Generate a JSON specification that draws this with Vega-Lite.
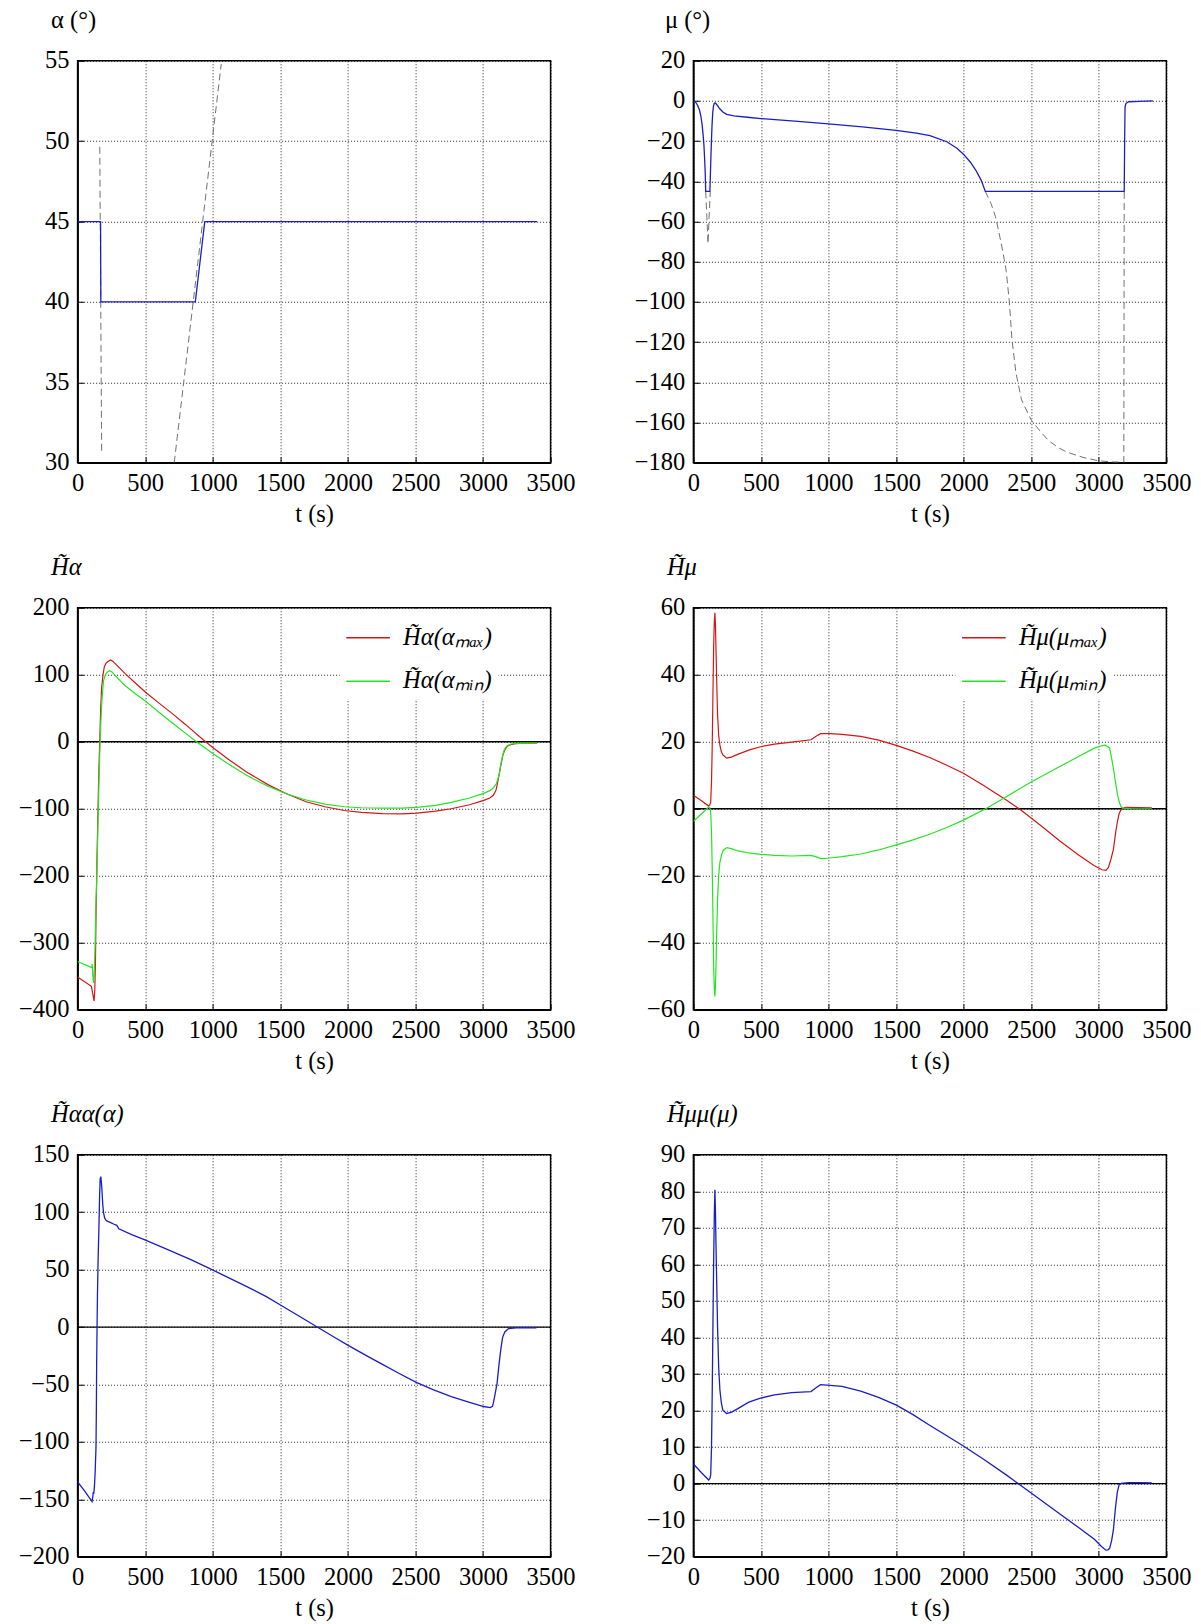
{
  "$schema": "https://vega.github.io/schema/vega-lite/v6.json",
  "background": "white",
  "autosize": {"type": "pad"},
  "padding": {"left": 6.6, "top": 6.75, "right": 20, "bottom": 10},
  "config": {
    "font": "Liberation Serif",
    "numberFormat": "d",
    "view": {"stroke": "black", "strokeWidth": 1.5},
    "axis": {
      "labelFont": "Liberation Serif", "labelFontSize": 24.5, "labelColor": "black",
      "titleFont": "Liberation Serif", "titleFontSize": 24.5, "titleFontWeight": "normal", "titleColor": "black",
      "grid": true, "gridColor": "#000000", "gridDash": [1, 2], "gridWidth": 1, "gridOpacity": 0.85,
      "domainColor": "black", "domainWidth": 1.5,
      "ticks": true, "tickColor": "black", "tickSize": -6, "tickWidth": 1,
      "labelOverlap": false, "labelFlush": false, "labelBound": false
    },
    "axisX": {"labelPadding": 15, "titleY": 51.5, "titleBaseline": "middle"},
    "axisY": {"labelPadding": 14.6, "titleAngle": 0, "titleAlign": "left", "titleBaseline": "middle", "titleY": -40, "titleX": -27, "minExtent": 70, "maxExtent": 70},
    "legend": {
      "orient": "none", "legendX": 262, "legendY": 1.5, "fillColor": "white", "padding": 6,
      "symbolType": "stroke", "symbolSize": 1900, "symbolStrokeWidth": 1.3,
      "labelFont": "Liberation Serif", "labelFontSize": 24.5, "labelFontStyle": "italic", "labelColor": "black",
      "labelOffset": 12.5, "rowPadding": 9.5
    }
  },
  "datasets": {
    "zero": [{"t": 0, "v": 0}, {"t": 3500, "v": 0}],
    "a_blue": [{"t":0,"v":45},{"t":170,"v":45},{"t":172,"v":40},{"t":871,"v":40},{"t":941,"v":45},{"t":3400,"v":45}],
    "a_dash": [{"t":164,"v":49.65,"seg":"a"},{"t":178,"v":30.7,"seg":"a"},{"t":715,"v":30,"seg":"b"},{"t":1063,"v":54.8,"seg":"b"}],
    "m_blue": [{"t":0,"v":0},{"t":15,"v":-0.5},{"t":30,"v":-2},{"t":45,"v":-4.5},{"t":55,"v":-7.5},{"t":65,"v":-12},{"t":72,"v":-17},{"t":78,"v":-22},{"t":84,"v":-30},{"t":88,"v":-37},{"t":91,"v":-45},{"t":122,"v":-45},{"t":126,"v":-36},{"t":130,"v":-27},{"t":134,"v":-19},{"t":138,"v":-12},{"t":143,"v":-6},{"t":148,"v":-2.8},{"t":154,"v":-1.2},{"t":160,"v":-0.9},{"t":168,"v":-1.4},{"t":180,"v":-2.5},{"t":195,"v":-3.9},{"t":218,"v":-5.5},{"t":246,"v":-6.7},{"t":300,"v":-7.4},{"t":400,"v":-8.1},{"t":500,"v":-8.75},{"t":750,"v":-10},{"t":1000,"v":-11.4},{"t":1250,"v":-12.9},{"t":1500,"v":-14.6},{"t":1650,"v":-16},{"t":1750,"v":-17.3},{"t":1875,"v":-20.3},{"t":1950,"v":-23.5},{"t":2000,"v":-26.6},{"t":2050,"v":-30.5},{"t":2090,"v":-34.5},{"t":2130,"v":-39.5},{"t":2160,"v":-45},{"t":3188,"v":-45},{"t":3191,"v":-20},{"t":3194,"v":-3},{"t":3200,"v":-1.3},{"t":3221,"v":-0.4},{"t":3300,"v":-0.2},{"t":3400,"v":0}],
    "m_dash": [{"t":91,"v":-45,"seg":"a"},{"t":100,"v":-58,"seg":"a"},{"t":108,"v":-71,"seg":"a"},{"t":116,"v":-58,"seg":"a"},{"t":125,"v":-45,"seg":"a"},
      {"t":2160,"v":-45,"seg":"b"},{"t":2202,"v":-51,"seg":"b"},{"t":2235,"v":-57.5,"seg":"b"},{"t":2258,"v":-64.5,"seg":"b"},{"t":2290,"v":-75,"seg":"b"},{"t":2315,"v":-84.7,"seg":"b"},{"t":2338,"v":-100,"seg":"b"},{"t":2357,"v":-118.4,"seg":"b"},{"t":2386,"v":-135,"seg":"b"},{"t":2428,"v":-148.7,"seg":"b"},{"t":2500,"v":-158.8,"seg":"b"},{"t":2570,"v":-164.6,"seg":"b"},{"t":2627,"v":-168.9,"seg":"b"},{"t":2700,"v":-172.5,"seg":"b"},{"t":2768,"v":-174.8,"seg":"b"},{"t":2882,"v":-177.3,"seg":"b"},{"t":2995,"v":-179,"seg":"b"},{"t":3100,"v":-179.6,"seg":"b"},{"t":3185,"v":-179.7,"seg":"b"},{"t":3188,"v":-45,"seg":"b"}],
    "ha": [
      {"t":0,"v":-351,"s":"max"},{"t":102,"v":-365,"s":"max"},{"t":113,"v":-377,"s":"max"},{"t":122,"v":-387,"s":"max"},{"t":127,"v":-372,"s":"max"},{"t":132,"v":-330,"s":"max"},{"t":136,"v":-261,"s":"max"},{"t":143,"v":-180,"s":"max"},{"t":150,"v":-110,"s":"max"},{"t":157,"v":-45,"s":"max"},{"t":164,"v":1,"s":"max"},{"t":171,"v":50,"s":"max"},{"t":178,"v":81,"s":"max"},{"t":188,"v":100,"s":"max"},{"t":198,"v":112,"s":"max"},{"t":210,"v":117,"s":"max"},{"t":220,"v":119,"s":"max"},{"t":243,"v":122,"s":"max"},{"t":260,"v":120,"s":"max"},{"t":277,"v":117,"s":"max"},{"t":350,"v":102,"s":"max"},{"t":425,"v":88,"s":"max"},{"t":503,"v":74,"s":"max"},{"t":600,"v":58,"s":"max"},{"t":701,"v":42,"s":"max"},{"t":800,"v":25.5,"s":"max"},{"t":927,"v":3.3,"s":"max"},{"t":1000,"v":-8.5,"s":"max"},{"t":1125,"v":-27.5,"s":"max"},{"t":1250,"v":-45,"s":"max"},{"t":1408,"v":-64,"s":"max"},{"t":1550,"v":-78,"s":"max"},{"t":1691,"v":-89.5,"s":"max"},{"t":1830,"v":-97,"s":"max"},{"t":1973,"v":-102.6,"s":"max"},{"t":2100,"v":-105.5,"s":"max"},{"t":2256,"v":-107.3,"s":"max"},{"t":2400,"v":-107.5,"s":"max"},{"t":2511,"v":-106.5,"s":"max"},{"t":2650,"v":-103.5,"s":"max"},{"t":2765,"v":-100,"s":"max"},{"t":2900,"v":-94,"s":"max"},{"t":3005,"v":-87.5,"s":"max"},{"t":3050,"v":-84,"s":"max"},{"t":3076,"v":-80,"s":"max"},{"t":3095,"v":-73,"s":"max"},{"t":3104,"v":-65,"s":"max"},{"t":3118,"v":-50,"s":"max"},{"t":3132,"v":-35,"s":"max"},{"t":3147,"v":-20,"s":"max"},{"t":3161,"v":-12,"s":"max"},{"t":3180,"v":-6.5,"s":"max"},{"t":3203,"v":-4.5,"s":"max"},{"t":3240,"v":-3,"s":"max"},{"t":3274,"v":-2.5,"s":"max"},{"t":3400,"v":-2,"s":"max"},
      {"t":0,"v":-328,"s":"min"},{"t":105,"v":-337,"s":"min"},{"t":108,"v":-332,"s":"min"},{"t":113,"v":-350,"s":"min"},{"t":118,"v":-360,"s":"min"},{"t":123,"v":-345,"s":"min"},{"t":130,"v":-300,"s":"min"},{"t":136,"v":-240,"s":"min"},{"t":141,"v":-211,"s":"min"},{"t":150,"v":-130,"s":"min"},{"t":158,"v":-60,"s":"min"},{"t":165,"v":-10,"s":"min"},{"t":172,"v":30,"s":"min"},{"t":180,"v":62,"s":"min"},{"t":192,"v":91,"s":"min"},{"t":205,"v":100,"s":"min"},{"t":220,"v":104,"s":"min"},{"t":235,"v":106,"s":"min"},{"t":255,"v":104,"s":"min"},{"t":277,"v":99,"s":"min"},{"t":350,"v":84,"s":"min"},{"t":425,"v":72,"s":"min"},{"t":503,"v":60.5,"s":"min"},{"t":600,"v":44.5,"s":"min"},{"t":701,"v":28,"s":"min"},{"t":800,"v":12.5,"s":"min"},{"t":880,"v":0,"s":"min"},{"t":1000,"v":-17.5,"s":"min"},{"t":1125,"v":-34.5,"s":"min"},{"t":1250,"v":-50,"s":"min"},{"t":1408,"v":-66.5,"s":"min"},{"t":1550,"v":-78,"s":"min"},{"t":1691,"v":-87,"s":"min"},{"t":1830,"v":-93,"s":"min"},{"t":1973,"v":-97,"s":"min"},{"t":2100,"v":-98.5,"s":"min"},{"t":2256,"v":-99,"s":"min"},{"t":2400,"v":-99,"s":"min"},{"t":2511,"v":-98,"s":"min"},{"t":2650,"v":-95,"s":"min"},{"t":2765,"v":-90.5,"s":"min"},{"t":2900,"v":-84,"s":"min"},{"t":3005,"v":-77,"s":"min"},{"t":3050,"v":-73,"s":"min"},{"t":3076,"v":-69,"s":"min"},{"t":3100,"v":-62,"s":"min"},{"t":3118,"v":-50,"s":"min"},{"t":3135,"v":-30,"s":"min"},{"t":3147,"v":-19,"s":"min"},{"t":3160,"v":-11,"s":"min"},{"t":3175,"v":-6.7,"s":"min"},{"t":3200,"v":-4,"s":"min"},{"t":3217,"v":-3,"s":"min"},{"t":3260,"v":-2.3,"s":"min"},{"t":3400,"v":-2,"s":"min"}
    ],
    "hm": [
      {"t":0,"v":4,"s":"max"},{"t":60,"v":2.4,"s":"max"},{"t":113,"v":0.8,"s":"max"},{"t":122,"v":1.2,"s":"max"},{"t":128,"v":2,"s":"max"},{"t":134,"v":8,"s":"max"},{"t":139,"v":18,"s":"max"},{"t":145,"v":35,"s":"max"},{"t":150,"v":48.4,"s":"max"},{"t":155,"v":56,"s":"max"},{"t":159,"v":58.5,"s":"max"},{"t":163,"v":55,"s":"max"},{"t":167,"v":48,"s":"max"},{"t":173,"v":37,"s":"max"},{"t":179,"v":28,"s":"max"},{"t":187,"v":22,"s":"max"},{"t":196,"v":19,"s":"max"},{"t":207,"v":17,"s":"max"},{"t":218,"v":16.1,"s":"max"},{"t":246,"v":15.1,"s":"max"},{"t":280,"v":15.4,"s":"max"},{"t":332,"v":16.3,"s":"max"},{"t":410,"v":17.5,"s":"max"},{"t":496,"v":18.5,"s":"max"},{"t":600,"v":19.3,"s":"max"},{"t":728,"v":19.9,"s":"max"},{"t":870,"v":20.6,"s":"max"},{"t":905,"v":21.6,"s":"max"},{"t":941,"v":22.4,"s":"max"},{"t":1012,"v":22.4,"s":"max"},{"t":1100,"v":22.2,"s":"max"},{"t":1238,"v":21.6,"s":"max"},{"t":1370,"v":20.5,"s":"max"},{"t":1502,"v":18.9,"s":"max"},{"t":1625,"v":17.2,"s":"max"},{"t":1748,"v":15.3,"s":"max"},{"t":1875,"v":13,"s":"max"},{"t":1998,"v":10.6,"s":"max"},{"t":2145,"v":7,"s":"max"},{"t":2315,"v":2.6,"s":"max"},{"t":2428,"v":-0.5,"s":"max"},{"t":2570,"v":-5,"s":"max"},{"t":2712,"v":-9.6,"s":"max"},{"t":2850,"v":-13.8,"s":"max"},{"t":2967,"v":-17,"s":"max"},{"t":3024,"v":-18.2,"s":"max"},{"t":3052,"v":-18.4,"s":"max"},{"t":3070,"v":-17.6,"s":"max"},{"t":3090,"v":-15,"s":"max"},{"t":3108,"v":-12.1,"s":"max"},{"t":3125,"v":-7,"s":"max"},{"t":3137,"v":-4,"s":"max"},{"t":3150,"v":-1.5,"s":"max"},{"t":3165,"v":-0.2,"s":"max"},{"t":3194,"v":0.4,"s":"max"},{"t":3300,"v":0.35,"s":"max"},{"t":3392,"v":0.3,"s":"max"},
      {"t":0,"v":-3.8,"s":"min"},{"t":60,"v":-1.5,"s":"min"},{"t":113,"v":0.5,"s":"min"},{"t":122,"v":0.2,"s":"min"},{"t":128,"v":-1,"s":"min"},{"t":134,"v":-7,"s":"min"},{"t":139,"v":-17,"s":"min"},{"t":145,"v":-33,"s":"min"},{"t":150,"v":-47.4,"s":"min"},{"t":155,"v":-54,"s":"min"},{"t":159,"v":-56,"s":"min"},{"t":163,"v":-53,"s":"min"},{"t":167,"v":-47.4,"s":"min"},{"t":173,"v":-36,"s":"min"},{"t":179,"v":-27,"s":"min"},{"t":187,"v":-20,"s":"min"},{"t":196,"v":-16,"s":"min"},{"t":207,"v":-14,"s":"min"},{"t":218,"v":-12.6,"s":"min"},{"t":246,"v":-11.6,"s":"min"},{"t":280,"v":-11.9,"s":"min"},{"t":332,"v":-12.6,"s":"min"},{"t":410,"v":-13.2,"s":"min"},{"t":496,"v":-13.6,"s":"min"},{"t":600,"v":-13.9,"s":"min"},{"t":728,"v":-14.1,"s":"min"},{"t":870,"v":-13.9,"s":"min"},{"t":905,"v":-14.3,"s":"min"},{"t":941,"v":-14.9,"s":"min"},{"t":1012,"v":-14.7,"s":"min"},{"t":1100,"v":-14.3,"s":"min"},{"t":1238,"v":-13.5,"s":"min"},{"t":1370,"v":-12.3,"s":"min"},{"t":1502,"v":-10.8,"s":"min"},{"t":1625,"v":-9.3,"s":"min"},{"t":1748,"v":-7.6,"s":"min"},{"t":1875,"v":-5.6,"s":"min"},{"t":1998,"v":-3.4,"s":"min"},{"t":2173,"v":0.2,"s":"min"},{"t":2315,"v":3.6,"s":"min"},{"t":2499,"v":8,"s":"min"},{"t":2712,"v":12.6,"s":"min"},{"t":2850,"v":15.6,"s":"min"},{"t":2967,"v":18.1,"s":"min"},{"t":3020,"v":18.8,"s":"min"},{"t":3046,"v":19,"s":"min"},{"t":3065,"v":18.6,"s":"min"},{"t":3080,"v":18.1,"s":"min"},{"t":3095,"v":15,"s":"min"},{"t":3110,"v":11.5,"s":"min"},{"t":3123,"v":8,"s":"min"},{"t":3137,"v":4.5,"s":"min"},{"t":3151,"v":2,"s":"min"},{"t":3165,"v":0.6,"s":"min"},{"t":3179,"v":0.2,"s":"min"},{"t":3250,"v":0,"s":"min"},{"t":3392,"v":0,"s":"min"}
    ],
    "haa": [{"t":0,"v":-134.8},{"t":50,"v":-142.5},{"t":107,"v":-152},{"t":112,"v":-148},{"t":116,"v":-143.7},{"t":120,"v":-145},{"t":125,"v":-138},{"t":130,"v":-126},{"t":136,"v":-105},{"t":139,"v":-70},{"t":141,"v":-31},{"t":144,"v":0},{"t":147,"v":28.4},{"t":152,"v":60},{"t":158,"v":87.7},{"t":163,"v":115},{"t":167,"v":129},{"t":172,"v":131},{"t":176,"v":126},{"t":181,"v":117.6},{"t":186,"v":107},{"t":192,"v":99.6},{"t":200,"v":95},{"t":210,"v":93},{"t":220,"v":92.2},{"t":249,"v":90.7},{"t":270,"v":89.5},{"t":290,"v":88.5},{"t":305,"v":85.5},{"t":400,"v":80.5},{"t":498,"v":75.8},{"t":650,"v":68.2},{"t":842,"v":58.5},{"t":998,"v":49.8},{"t":1150,"v":41},{"t":1267,"v":34.3},{"t":1400,"v":26.3},{"t":1501,"v":19.2},{"t":1650,"v":8.7},{"t":1776,"v":-0.2},{"t":1900,"v":-8.9},{"t":2002,"v":-16},{"t":2130,"v":-24.5},{"t":2256,"v":-32.5},{"t":2380,"v":-40.5},{"t":2502,"v":-48},{"t":2630,"v":-54.5},{"t":2765,"v":-60.6},{"t":2900,"v":-65.5},{"t":3005,"v":-69.2},{"t":3053,"v":-70.1},{"t":3070,"v":-69},{"t":3076,"v":-66.5},{"t":3090,"v":-58},{"t":3104,"v":-48.8},{"t":3118,"v":-33},{"t":3132,"v":-19},{"t":3145,"v":-9},{"t":3161,"v":-4.3},{"t":3189,"v":-1.3},{"t":3246,"v":-0.7},{"t":3395,"v":-0.7}],
    "hmm": [{"t":0,"v":5.4},{"t":60,"v":3},{"t":113,"v":1},{"t":122,"v":1.4},{"t":128,"v":2.4},{"t":134,"v":10},{"t":139,"v":23.8},{"t":145,"v":45},{"t":150,"v":61},{"t":155,"v":74},{"t":159,"v":80.4},{"t":163,"v":75},{"t":167,"v":65.8},{"t":173,"v":54},{"t":179,"v":42.5},{"t":187,"v":32},{"t":196,"v":25.7},{"t":207,"v":22},{"t":218,"v":20.1},{"t":246,"v":19.2},{"t":280,"v":19.5},{"t":332,"v":20.6},{"t":410,"v":22.3},{"t":496,"v":23.4},{"t":600,"v":24.3},{"t":728,"v":24.9},{"t":870,"v":25.2},{"t":905,"v":26.2},{"t":941,"v":27.1},{"t":1012,"v":26.9},{"t":1100,"v":26.6},{"t":1238,"v":25.3},{"t":1370,"v":23.6},{"t":1502,"v":21.5},{"t":1625,"v":18.9},{"t":1748,"v":16},{"t":1875,"v":13.1},{"t":1998,"v":10.3},{"t":2150,"v":6.6},{"t":2315,"v":2.4},{"t":2400,"v":0.1},{"t":2550,"v":-3.9},{"t":2712,"v":-8.3},{"t":2850,"v":-12},{"t":2967,"v":-15.2},{"t":3020,"v":-17.2},{"t":3052,"v":-18.2},{"t":3068,"v":-18.1},{"t":3080,"v":-17.7},{"t":3095,"v":-15.5},{"t":3108,"v":-12.6},{"t":3122,"v":-7},{"t":3137,"v":-2.3},{"t":3150,"v":-0.3},{"t":3165,"v":0.05},{"t":3221,"v":0.3},{"t":3300,"v":0.3},{"t":3392,"v":0.2}]
  },
  "columns": 2,
  "spacing": {"row": 145, "column": 142.8},
  "bounds": "flush",
  "resolve": {"scale": {"color": "independent"}, "legend": {"color": "independent"}},
  "concat": [
    {
      "width": 473, "height": 402,
      "encoding": {
        "x": {"field": "t", "type": "quantitative", "scale": {"domain": [0, 3500], "nice": false}, "axis": {"values": [0,500,1000,1500,2000,2500,3000,3500], "title": "t (s)"}},
        "y": {"field": "v", "type": "quantitative", "scale": {"domain": [30, 55], "nice": false, "zero": false}, "axis": {"values": [30,35,40,45,50,55], "title": "α (°)"}}
      },
      "layer": [
        {"data": {"name": "a_dash"}, "mark": {"type": "line", "color": "#707070", "strokeWidth": 1, "strokeDash": [7, 4], "clip": true}, "encoding": {"detail": {"field": "seg", "type": "nominal"}}},
        {"data": {"name": "a_blue"}, "mark": {"type": "line", "color": "#1c1cc8", "strokeWidth": 1.3, "clip": true}}
      ]
    },
    {
      "width": 473, "height": 402,
      "encoding": {
        "x": {"field": "t", "type": "quantitative", "scale": {"domain": [0, 3500], "nice": false}, "axis": {"values": [0,500,1000,1500,2000,2500,3000,3500], "title": "t (s)"}},
        "y": {"field": "v", "type": "quantitative", "scale": {"domain": [-180, 20], "nice": false, "zero": false}, "axis": {"values": [-180,-160,-140,-120,-100,-80,-60,-40,-20,0,20], "title": "μ (°)", "titleX": -29}}
      },
      "layer": [
        {"data": {"name": "m_dash"}, "mark": {"type": "line", "color": "#707070", "strokeWidth": 1, "strokeDash": [7, 4], "clip": true}, "encoding": {"detail": {"field": "seg", "type": "nominal"}}},
        {"data": {"name": "m_blue"}, "mark": {"type": "line", "color": "#1c1cc8", "strokeWidth": 1.3, "clip": true}}
      ]
    },
    {
      "width": 473, "height": 402,
      "encoding": {
        "x": {"field": "t", "type": "quantitative", "scale": {"domain": [0, 3500], "nice": false}, "axis": {"values": [0,500,1000,1500,2000,2500,3000,3500], "title": "t (s)"}},
        "y": {"field": "v", "type": "quantitative", "scale": {"domain": [-400, 200], "nice": false, "zero": false}, "axis": {"values": [-400,-300,-200,-100,0,100,200], "title": "H̃α", "titleFontStyle": "italic"}}
      },
      "layer": [
        {"data": {"name": "zero"}, "mark": {"type": "line", "color": "black", "strokeWidth": 1.3, "clip": true}},
        {"data": {"name": "ha"}, "mark": {"type": "line", "strokeWidth": 1.2, "clip": true},
         "encoding": {"color": {"field": "s", "type": "nominal", "scale": {"domain": ["max", "min"], "range": ["#d41515", "#22e622"]},
           "legend": {"title": null, "labelExpr": "datum.label == 'max' ? 'H̃α(αₘₐₓ)' : 'H̃α(αₘᵢₙ)'"}}}}
      ]
    },
    {
      "width": 473, "height": 402,
      "encoding": {
        "x": {"field": "t", "type": "quantitative", "scale": {"domain": [0, 3500], "nice": false}, "axis": {"values": [0,500,1000,1500,2000,2500,3000,3500], "title": "t (s)"}},
        "y": {"field": "v", "type": "quantitative", "scale": {"domain": [-60, 60], "nice": false, "zero": false}, "axis": {"values": [-60,-40,-20,0,20,40,60], "title": "H̃μ", "titleFontStyle": "italic"}}
      },
      "layer": [
        {"data": {"name": "zero"}, "mark": {"type": "line", "color": "black", "strokeWidth": 1.3, "clip": true}},
        {"data": {"name": "hm"}, "mark": {"type": "line", "strokeWidth": 1.2, "clip": true},
         "encoding": {"color": {"field": "s", "type": "nominal", "scale": {"domain": ["max", "min"], "range": ["#d41515", "#22e622"]},
           "legend": {"title": null, "labelExpr": "datum.label == 'max' ? 'H̃μ(μₘₐₓ)' : 'H̃μ(μₘᵢₙ)'"}}}}
      ]
    },
    {
      "width": 473, "height": 402,
      "encoding": {
        "x": {"field": "t", "type": "quantitative", "scale": {"domain": [0, 3500], "nice": false}, "axis": {"values": [0,500,1000,1500,2000,2500,3000,3500], "title": "t (s)"}},
        "y": {"field": "v", "type": "quantitative", "scale": {"domain": [-200, 150], "nice": false, "zero": false}, "axis": {"values": [-200,-150,-100,-50,0,50,100,150], "title": "H̃αα(α)", "titleFontStyle": "italic"}}
      },
      "layer": [
        {"data": {"name": "zero"}, "mark": {"type": "line", "color": "black", "strokeWidth": 1.3, "clip": true}},
        {"data": {"name": "haa"}, "mark": {"type": "line", "color": "#1c1cc8", "strokeWidth": 1.3, "clip": true}}
      ]
    },
    {
      "width": 473, "height": 402,
      "encoding": {
        "x": {"field": "t", "type": "quantitative", "scale": {"domain": [0, 3500], "nice": false}, "axis": {"values": [0,500,1000,1500,2000,2500,3000,3500], "title": "t (s)"}},
        "y": {"field": "v", "type": "quantitative", "scale": {"domain": [-20, 90], "nice": false, "zero": false}, "axis": {"values": [-20,-10,0,10,20,30,40,50,60,70,80,90], "title": "H̃μμ(μ)", "titleFontStyle": "italic"}}
      },
      "layer": [
        {"data": {"name": "zero"}, "mark": {"type": "line", "color": "black", "strokeWidth": 1.3, "clip": true}},
        {"data": {"name": "hmm"}, "mark": {"type": "line", "color": "#1c1cc8", "strokeWidth": 1.3, "clip": true}}
      ]
    }
  ]
}
